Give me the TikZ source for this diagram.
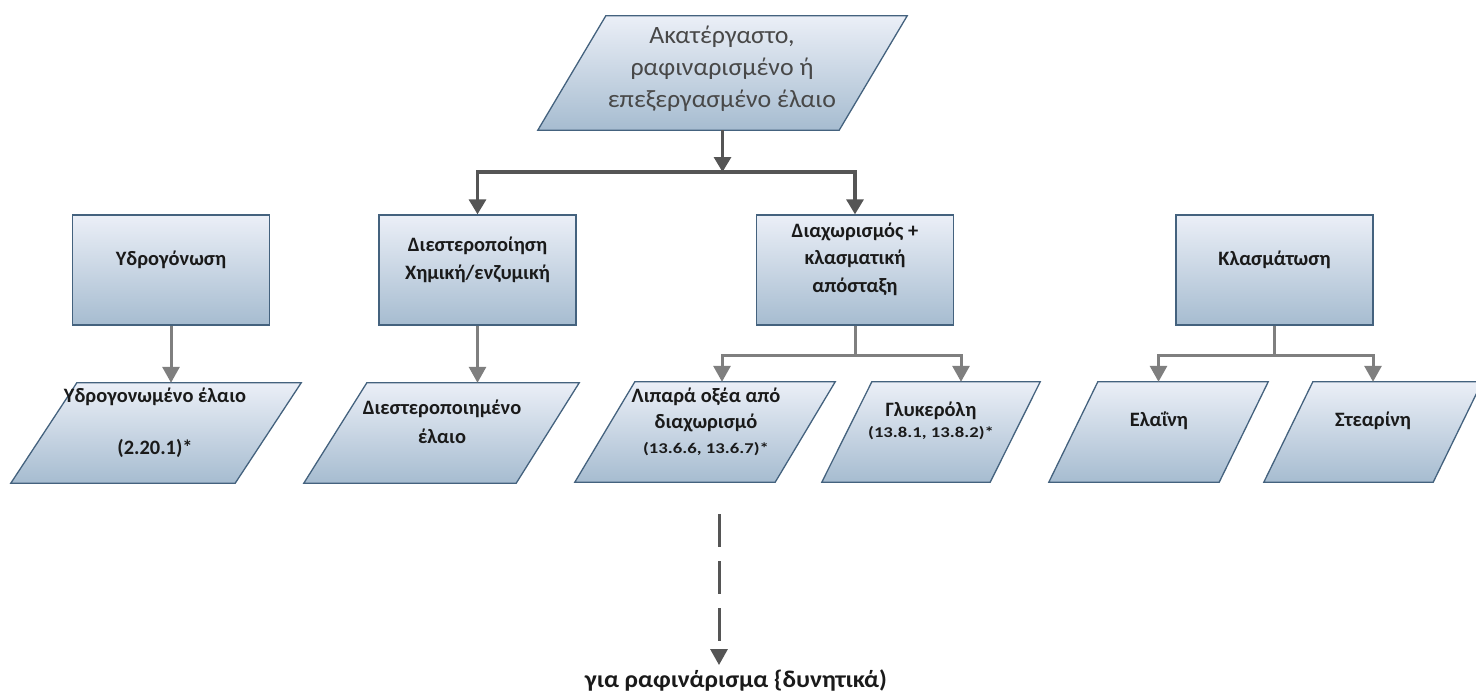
\documentclass[tikz,border=0pt]{standalone}
\usepackage{fontspec}
\setmainfont{Carlito}
\newfontfamily\topfont{Carlito}[FakeStretch=1.04]
\newfontfamily\smallfont{Carlito}[FakeStretch=1.25]
\newfontfamily\footfont{Carlito}[FakeStretch=1.06]
\usetikzlibrary{arrows.meta}
\definecolor{shTop}{HTML}{EBEFF7}
\definecolor{shBot}{HTML}{A6BCD0}
\definecolor{bord}{HTML}{44627E}
\definecolor{darkln}{HTML}{555555}
\definecolor{greyln}{HTML}{7F7F7F}
\definecolor{txt}{HTML}{1A1A1A}
\newcommand\paraShape[2]{\shadedraw[pshade] ([xshift=#2]#1.north west) -- (#1.north east) -- ([xshift=-#2]#1.south east) -- (#1.south west) -- cycle;}
\tikzset{
  box/.style={draw=bord, line width=1.3bp, top color=shTop, bottom color=shBot, minimum width=197bp, minimum height=110bp, inner sep=0pt},
  pnode/.style={inner sep=0pt, minimum height=100bp},
  pshade/.style={draw=bord, line width=1.3bp, top color=shTop, bottom color=shBot},
  btxt/.style={font=\fontsize{20.5}{27.5}\selectfont\bfseries, text=txt, align=center, inner sep=0pt},
  toptxt/.style={font=\topfont\fontsize{25}{32}\selectfont, text=txt!80, align=center, inner sep=0pt},
  darkarrow/.style={draw=darkln, line width=3.2bp, -{Triangle[width=17bp,length=15bp]}},
  greyarrow/.style={draw=greyln, line width=3bp, -{Triangle[width=17bp,length=16bp]}},
  greyline/.style={draw=greyln, line width=3bp},
  dasharrow/.style={draw=darkln, line width=3bp, dash pattern=on 33bp off 14bp, -{Triangle[width=17bp,length=16bp]}},
}
\begin{document}
\begin{tikzpicture}[x=1bp, y=-1bp]
\useasboundingbox (0,0) rectangle (1476,693);
% top input
\node[pnode, minimum width=369bp, minimum height=114bp] (p0) at (722.5,73) {};
\paraShape{p0}{68bp}
\node[toptxt] (t0) at (722,69) {Ακατέργαστο,\\ραφιναρισμένο ή\\επεξεργασμένο έλαιο};
% process boxes
\node[box] (b1) at (171,270) {};
\node[btxt] (tb1) at ([yshift=10bp]b1.center) {Υδρογόνωση};
\node[box] (b2) at (477.5,270) {};
\node[btxt] (tb2) at ([yshift=10bp]b2.center) {Διεστεροποίηση\\Χημική/ενζυμική};
\node[box] (b3) at (855,270) {};
\node[btxt] (tb3) at ([yshift=11bp]b3.center) {Διαχωρισμός +\\κλασματική\\απόσταξη};
\node[box] (b4) at (1274.5,270) {};
\node[btxt] (tb4) at ([yshift=10bp]b4.center) {Κλασμάτωση};
% product parallelograms
\node[pnode, minimum width=290bp] (p1) at (156,433) {};
\paraShape{p1}{66bp}
\node[pnode, minimum width=275bp] (p2) at (441.5,433) {};
\paraShape{p2}{63bp}
\node[pnode, minimum width=260bp] (p3) at (705,432) {};
\paraShape{p3}{60bp}
\node[pnode, minimum width=218bp] (p4) at (931,432) {};
\paraShape{p4}{50bp}
\node[pnode, minimum width=219bp] (p5) at (1158.5,432) {};
\paraShape{p5}{49bp}
\node[pnode, minimum width=218bp] (p6) at (1373,432) {};
\paraShape{p6}{49bp}
\node[btxt] (tp1) at (155,423) {Υδρογονωμένο έλαιο\\[25bp](2.20.1)*};
\node[btxt, font=\fontsize{20.5}{29}\selectfont\bfseries] (tp2) at (442,422) {Διεστεροποιημένο\\έλαιο};
\node[btxt, font=\fontsize{20.5}{25.5}\selectfont\bfseries] (tp3) at (706,422) {Λιπαρά οξέα από\\διαχωρισμό\\{\smallfont\fontsize{15}{23.5}\selectfont(13.6.6, 13.6.7)*}};
\node[btxt, font=\fontsize{20.5}{20.5}\selectfont\bfseries] (tp4) at (931,421) {Γλυκερόλη\\{\smallfont\fontsize{15}{20.5}\selectfont(13.8.1, 13.8.2)*}};
\node[btxt] (tp5) at (1159,421) {Ελαΐνη};
\node[btxt] (tp6) at (1373,421) {Στεαρίνη};
\node[btxt, font=\footfont\fontsize{24}{27}\selectfont\bfseries, anchor=base] (tb) at (736,687) {για ραφινάρισμα \{δυνητικά)};
% connectors from the input
\coordinate (jt) at (721,172);
\draw[darkarrow] (p0.south) -- (p0.south |- jt);
\draw[darkarrow] (jt) -| (b2.north);
\draw[darkarrow] (jt) -| (b3.north);
% single outputs
\draw[greyarrow] (b1.south) -- (b1.south |- p1.north);
\draw[greyarrow] (b2.south) -- (b2.south |- p2.north);
% split outputs
\coordinate (j3) at ([yshift=-30bp]b3.south);
\draw[greyline] (b3.south) -- (j3);
\draw[greyarrow] (j3) -| ([xshift=17bp]p3.north);
\draw[greyarrow] (j3) -| ([xshift=30bp]p4.north);
\coordinate (j4) at ([yshift=-30bp]b4.south);
\draw[greyline] (b4.south) -- (j4);
\draw[greyarrow] (j4) -| (p5.north);
\draw[greyarrow] (j4) -| (p6.north);
% optional refining
\coordinate (d0) at (719,514);
\draw[dasharrow] (d0) -- ([yshift=4bp]d0 |- tb.north);
\end{tikzpicture}
\end{document}
